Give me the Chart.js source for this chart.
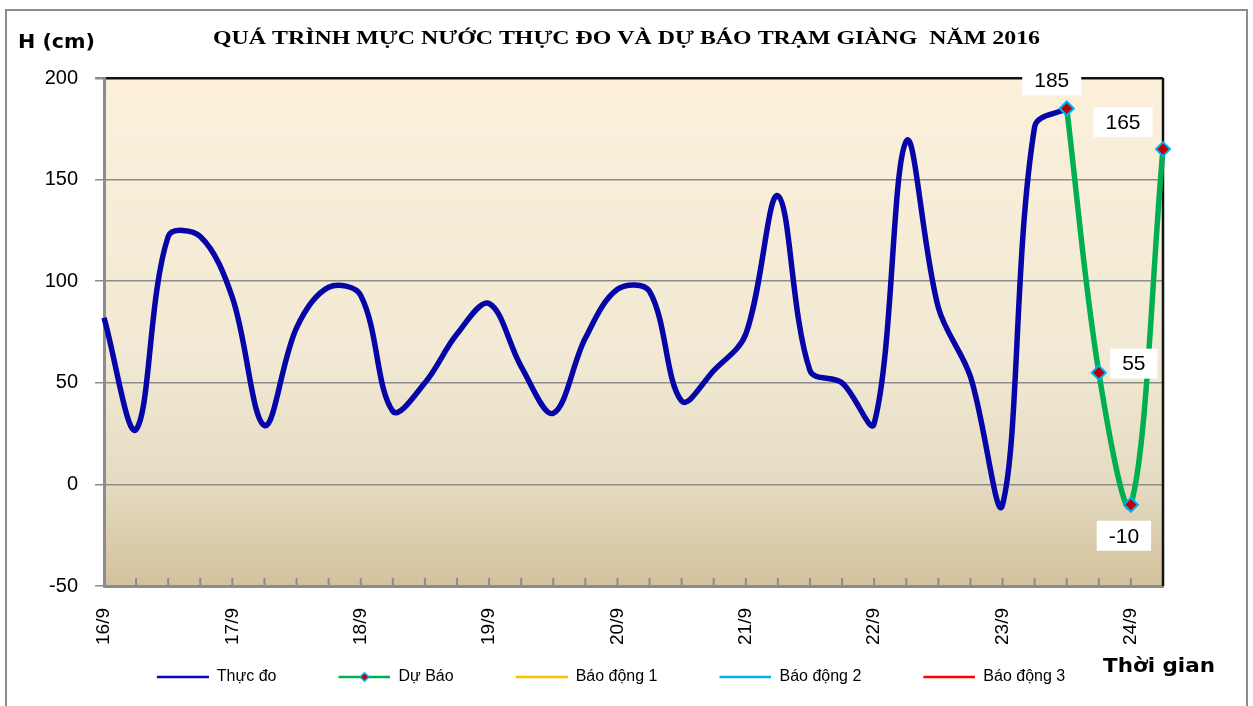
<!DOCTYPE html>
<html>
<head>
<meta charset="utf-8">
<script src="https://cdn.jsdelivr.net/npm/chart.js@4.4.1/dist/chart.umd.min.js"></script>
<style>
  html, body { margin: 0; padding: 0; background: #fff; }
  #wrap { width: 1253px; height: 706px; position: relative; }
</style>
</head>
<body>
<div id="wrap"><canvas id="mucNuoc"></canvas></div>
<script>
// 6-hourly steps, label only at start of each day
const categories = [
  '16/9', '', '', '', '17/9', '', '', '', '18/9', '', '', '',
  '19/9', '', '', '', '20/9', '', '', '', '21/9', '', '', '',
  '22/9', '', '', '', '23/9', '', '', '', '24/9', ''
];
const thucDo = [
  82, 27, 122, 122, 92, 29, 77, 97, 93, 36, 50, 74,
  89, 58, 35, 72, 96, 95, 41, 56, 74, 142, 56, 50,
  30, 169, 87, 53, -10, 176, 185, null, null, null
];
const duBao = [
  null, null, null, null, null, null, null, null, null, null, null, null,
  null, null, null, null, null, null, null, null, null, null, null, null,
  null, null, null, null, null, null, 185, 55, -10, 165
];
const baoDong1 = [];
const baoDong2 = [];
const baoDong3 = [];
const yTicks = [-50, 0, 50, 100, 150, 200];

// where the white value boxes sit relative to each forecast point
const labelOffsets = { 30: [-15, -28], 31: [35, -9], 32: [-7, 31], 33: [-40, -27] };

const ICON_GAP = 52;  // blank lead-in of each legend icon = spacing between items
function legendIcon(color, diamond) {
  const c = document.createElement('canvas');
  c.width = 52 + ICON_GAP; c.height = 14;
  const g = c.getContext('2d');
  g.strokeStyle = color; g.lineWidth = 2.5;
  g.beginPath(); g.moveTo(ICON_GAP, 7); g.lineTo(ICON_GAP + 52, 7); g.stroke();
  if (diamond) {
    g.save();
    g.translate(ICON_GAP + 26, 7); g.rotate(Math.PI / 4);
    g.fillStyle = '#c00000'; g.strokeStyle = '#00b0f0'; g.lineWidth = 1.5;
    g.fillRect(-3, -3, 6, 6); g.strokeRect(-3, -3, 6, 6);
    g.restore();
  }
  return c;
}

function stretchText(ctx, txt, x, y, w) {
  const m = ctx.measureText(txt).width;
  ctx.save();
  ctx.translate(x, y);
  ctx.scale(w / m, 1);
  ctx.fillText(txt, 0, 0);
  ctx.restore();
}

const frame = {
  id: 'frame',
  beforeDraw(chart) {
    const {ctx, chartArea: a, width, height} = chart;
    ctx.save();
    ctx.fillStyle = '#fff';
    ctx.fillRect(0, 0, width, height);
    const g = ctx.createLinearGradient(0, a.top, 0, a.bottom);
    g.addColorStop(0, '#fcf0db');
    g.addColorStop(0.55, '#f1e9d3');
    g.addColorStop(0.8, '#e5dbc1');
    g.addColorStop(1, '#d2c29c');
    ctx.fillStyle = g;
    ctx.fillRect(a.left, a.top, a.right - a.left, a.bottom - a.top);
    ctx.strokeStyle = '#8c8c8c';
    ctx.lineWidth = 2;
    ctx.strokeRect(6, 10, 1241, 720);

    ctx.fillStyle = '#000';
    ctx.textBaseline = 'middle';
    ctx.textAlign = 'left';
    ctx.font = "bold 19px 'Liberation Serif'";
    stretchText(ctx, 'QUÁ TRÌNH MỰC NƯỚC THỰC ĐO VÀ DỰ BÁO TRẠM GIÀNG  NĂM 2016', 213, 39, 827);
    ctx.font = "bold 20px 'DejaVu Sans'";
    stretchText(ctx, 'H (cm)', 18, 43, 77);
    stretchText(ctx, 'Thời gian', 1103, 667, 112);
    ctx.restore();
  },
  beforeDatasetsDraw(chart) {
    const {ctx, chartArea: a} = chart;
    const xs = chart.scales.x;
    ctx.save();
    ctx.strokeStyle = '#8c8c8c';
    ctx.lineWidth = 2;
    ctx.beginPath();
    xs.ticks.forEach((t, i) => {
      const x = xs.getPixelForTick(i);
      ctx.moveTo(x, a.bottom - 8);
      ctx.lineTo(x, a.bottom);
    });
    ctx.stroke();
    ctx.strokeStyle = '#111';
    ctx.lineWidth = 2.5;
    ctx.beginPath();
    ctx.moveTo(a.right, a.top);
    ctx.lineTo(a.right, a.bottom);
    ctx.stroke();
    ctx.restore();
  },
  afterDatasetsDraw(chart) {
    const {ctx} = chart;
    const meta = chart.getDatasetMeta(1);
    ctx.save();
    ctx.font = "21px 'Liberation Sans'";
    ctx.textAlign = 'center';
    ctx.textBaseline = 'middle';
    duBao.forEach((v, i) => {
      if (v === null) return;
      const p = meta.data[i];
      const off = labelOffsets[i] || [0, -28];
      const cx = p.x + off[0], cy = p.y + off[1];
      const txt = String(v);
      const w = ctx.measureText(txt).width + 24, h = 30;
      ctx.fillStyle = '#fff';
      ctx.fillRect(cx - w / 2, cy - h / 2, w, h);
      ctx.fillStyle = '#000';
      ctx.fillText(txt, cx, cy + 1);
    });
    ctx.restore();
  }
};

const legendStyles = [
  legendIcon('#0a0aa8', false),
  legendIcon('#00b050', true),
  legendIcon('#ffc000', false),
  legendIcon('#00b0f0', false),
  legendIcon('#ff0000', false)
];

new Chart(document.getElementById('mucNuoc'), {
  type: 'line',
  data: {
    labels: categories,
    datasets: [
      { label: 'Thực đo', data: thucDo, borderColor: '#0606a8', borderWidth: 5.5,
        pointRadius: 0, tension: 0.35, order: 1 },
      { label: 'Dự Báo', data: duBao, borderColor: '#00b050', borderWidth: 5.5,
        pointStyle: 'rectRot', pointRadius: 7, pointBackgroundColor: '#c00000',
        pointBorderColor: '#00b0f0', pointBorderWidth: 2, tension: 0.35, order: 0 },
      { label: 'Báo động 1', data: baoDong1, borderColor: '#ffc000', borderWidth: 2, pointRadius: 0, order: 2 },
      { label: 'Báo động 2', data: baoDong2, borderColor: '#00b0f0', borderWidth: 2, pointRadius: 0, order: 3 },
      { label: 'Báo động 3', data: baoDong3, borderColor: '#ff0000', borderWidth: 2, pointRadius: 0, order: 4 }
    ]
  },
  options: {
    responsive: true,
    maintainAspectRatio: false,
    animation: false,
    layout: { padding: { left: 7, right: 90, top: 78, bottom: 11 } },
    plugins: {
      tooltip: { enabled: false },
      legend: {
        position: 'bottom',
        labels: {
          usePointStyle: true,
          pointStyleWidth: 52 + ICON_GAP,
          padding: 10,
          color: '#000',
          font: { family: 'Liberation Sans', size: 16 },
          generateLabels(chart) {
            return chart.data.datasets.map((ds, i) => ({
              text: ds.label, datasetIndex: i, pointStyle: legendStyles[i],
              fillStyle: ds.borderColor, strokeStyle: ds.borderColor, lineWidth: 0,
              fontColor: '#000', hidden: false
            }));
          }
        }
      }
    },
    scales: {
      x: {
        grid: { display: false, drawTicks: false },
        border: { color: '#8c8c8c', width: 3 },
        afterFit(scale) { scale.height = 73; },
        ticks: {
          autoSkip: false, maxRotation: 90, minRotation: 90, padding: 22,
          color: '#000', font: { family: 'Liberation Sans', size: 19 }
        }
      },
      y: {
        min: -50, max: 200,
        afterFit(scale) { scale.width = 97; },
        afterBuildTicks(scale) { scale.ticks = yTicks.map(v => ({ value: v })); },
        grid: {
          color: c => c.tick && c.tick.value === 200 ? '#111' : '#8c8c8c',
          lineWidth: c => c.tick && c.tick.value === 200 ? 2.5 : 1.5,
          tickColor: '#8c8c8c', tickLength: 9
        },
        border: { color: '#8c8c8c', width: 3 },
        ticks: { padding: 17, color: '#000', font: { family: 'Liberation Sans', size: 20 } }
      }
    }
  },
  plugins: [frame]
});
</script>
</body>
</html>
